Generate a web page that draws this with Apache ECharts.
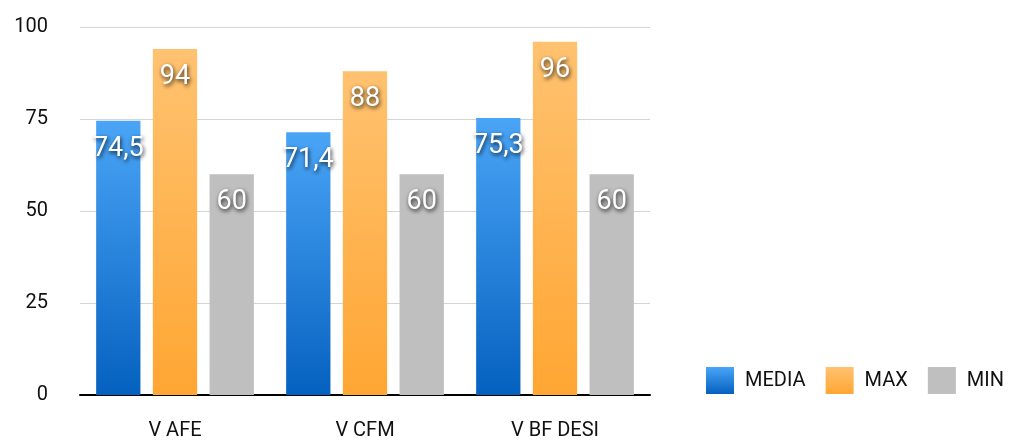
<!DOCTYPE html>
<html>
<head>
<meta charset="utf-8">
<script src="https://cdn.jsdelivr.net/npm/echarts@6/dist/echarts.min.js"></script>
<style>
  html, body { margin: 0; padding: 0; background: #fff; }
  #chart { width: 1018px; height: 441px; }
</style>
</head>
<body>
<div id="chart"></div>
<script>
const categories = ["V AFE", "V CFM", "V BF DESI"];
const mediaValues = [74.5, 71.4, 75.3];
const maxValues = [94, 88, 96];
const minValues = [60, 60, 60];
const seriesNames = ["MEDIA", "MAX", "MIN"];

const font = "Roboto, sans-serif";

function grad(top, bottom) {
  return new echarts.graphic.LinearGradient(0, 0, 0, 1, [
    { offset: 0, color: top },
    { offset: 1, color: bottom }
  ]);
}

// etichette bianche con ombra
const barLabel = {
  show: true,
  position: "insideTop",
  distance: 15,
  color: "#fff",
  fontFamily: font,
  fontSize: 27,
  textShadowColor: "rgba(0,0,0,0.85)",
  textShadowBlur: 4,
  textShadowOffsetX: 1,
  textShadowOffsetY: 2,
  formatter: p => String(p.value).replace(".", ",")
};

const chart = echarts.init(document.getElementById("chart"));
chart.setOption({
  animation: false,
  grid: { left: 80, right: 368, top: 27, bottom: 44 },
  legend: {
    data: seriesNames,
    left: 706,
    top: 367,
    width: 312,
    padding: 0,
    itemWidth: 28,
    itemHeight: 27,
    itemGap: 20,
    icon: "rect",
    textStyle: { fontFamily: font, fontSize: 20, color: "#111", padding: [0, 0, 0, 6] }
  },
  xAxis: {
    type: "category",
    data: categories,
    axisLine: { lineStyle: { color: "#000", width: 2 } },
    axisTick: { show: false },
    axisLabel: { fontFamily: font, fontSize: 20, color: "#111", margin: 26 }
  },
  yAxis: {
    type: "value",
    min: 0,
    max: 100,
    interval: 25,
    axisLine: { show: false },
    axisTick: { show: false },
    splitLine: { lineStyle: { color: "#d4d4d4", width: 1 } },
    axisLabel: { fontFamily: font, fontSize: 20, color: "#111", margin: 32 }
  },
  series: [
    {
      name: "MEDIA", type: "bar", data: mediaValues,
      barGap: "28%", barCategoryGap: "17%",
      itemStyle: { color: grad("#4aa5f7", "#0561bf") },
      label: barLabel
    },
    {
      name: "MAX", type: "bar", data: maxValues,
      itemStyle: { color: grad("#ffc270", "#ffa633") },
      label: barLabel
    },
    {
      name: "MIN", type: "bar", data: minValues,
      itemStyle: { color: "#bfbfbf" },
      label: barLabel
    }
  ]
});
</script>
</body>
</html>
